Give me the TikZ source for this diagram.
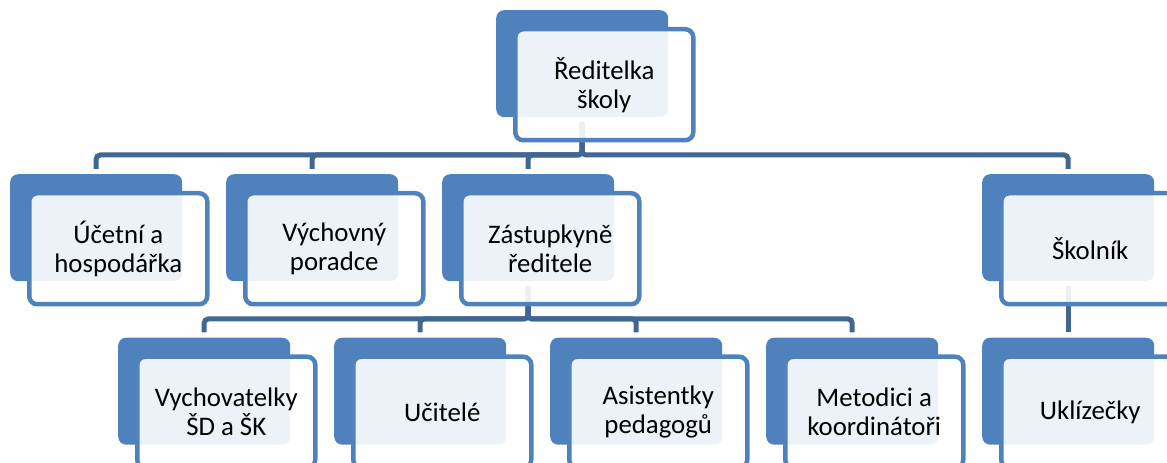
\documentclass[tikz,border=0pt]{standalone}
\usepackage{fontspec}
\setmainfont{Carlito}
\usetikzlibrary{backgrounds}
\definecolor{boxblue}{RGB}{79,129,189}
\definecolor{lineblue}{RGB}{64,102,148}
\begin{document}
\begin{tikzpicture}[x=1pt, y=1pt,
    back/.style={fill=boxblue, rounded corners=8pt, minimum width=172pt,
                 minimum height=107pt, inner sep=0pt, anchor=north west},
    front/.style={draw=boxblue, line width=4.5pt, fill=white, fill opacity=0.9,
                  text opacity=1, rounded corners=8pt, minimum width=178pt,
                  minimum height=111pt, inner sep=0pt, align=center,
                  anchor=north west, font=\fontsize{26.8}{29}\selectfont},
    conn/.style={draw=lineblue, line width=5pt, rounded corners=4pt,
                 shorten <=5pt, shorten >=5pt}]
\useasboundingbox (0,0) rectangle (1167,463);
\foreach \n/\x/\y/\t in {reditelka/496/453/{Ředitelka\\školy},
                         ucetni/10/289/{Účetní a\\hospodářka},
                         vychovny/226/289/{Výchovný\\poradce},
                         zastupkyne/442/289/{Zástupkyně\\ředitele},
                         skolnik/982/289/{Školník},
                         vychovatelky/118/125.5/{Vychovatelky\\ŠD a ŠK},
                         ucitele/334/125.5/{Učitelé},
                         asistentky/550/125.5/{Asistentky\\pedagogů},
                         metodici/766/125.5/{Metodici a\\koordinátoři},
                         uklizecky/982/125.5/{Uklízečky}}
    {\node[back] (\n) at (\x,\y) {};
     \node[front] (\n t) at ([shift={(17,-17)}]\n.north west) {\t};};
\coordinate (bus1) at (582,308);
\coordinate (bus2) at (528,144);
\begin{scope}[on background layer]
\foreach \c in {ucetni, vychovny, zastupkyne, skolnik}
    \draw[conn] (reditelka.south) -- (bus1) -| (\c.north);
\foreach \c in {vychovatelky, ucitele, asistentky, metodici}
    \draw[conn] (zastupkyne.south) -- (bus2) -| (\c.north);
\draw[conn] (skolnik.south) -- (uklizecky.north);
\end{scope}
\end{tikzpicture}
\end{document}
